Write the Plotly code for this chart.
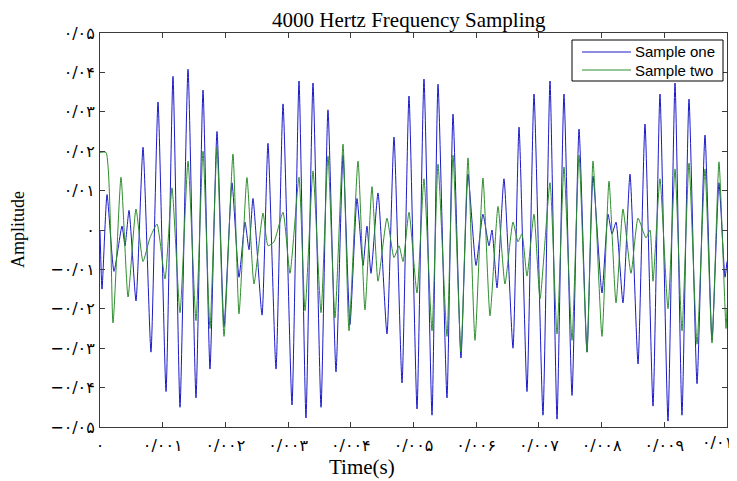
import plotly.graph_objects as go

# Sample one (blue): time in ms, amplitude
blue_ms = [0.000, 0.032, 0.112, 0.223, 0.351, 0.399, 0.463, 0.574, 0.686, 0.813,
           0.925, 1.053, 1.164, 1.276, 1.404, 1.531, 1.643, 1.754, 1.866, 1.978,
           2.105, 2.217, 2.313, 2.376, 2.440, 2.584, 2.679, 2.807, 2.919, 3.062,
           3.174, 3.285, 3.397, 3.525, 3.636, 3.764, 3.876, 3.987, 4.099, 4.195,
           4.258, 4.322, 4.434, 4.577, 4.689, 4.817, 4.928, 5.056, 5.167, 5.295,
           5.391, 5.534, 5.630, 5.757, 5.869, 5.997, 6.108, 6.204, 6.252, 6.332,
           6.443, 6.587, 6.683, 6.810, 6.922, 7.065, 7.177, 7.289, 7.400, 7.528,
           7.640, 7.767, 7.863, 8.006, 8.102, 8.166, 8.230, 8.341, 8.453, 8.581,
           8.692, 8.820, 8.931, 9.059, 9.171, 9.282, 9.394, 9.522, 9.649, 9.761,
           9.872, 9.968, 10.000]
blue_amp = [0.000, -0.015, 0.009, -0.0105, 0.001, -0.004, 0.005, -0.018, 0.021, -0.031,
            0.0325, -0.041, 0.039, -0.045, 0.0408, -0.0426, 0.0355, -0.0353, 0.025, -0.0245,
            0.012, -0.012, 0.002, -0.005, 0.008, -0.0216, 0.022, -0.0353, 0.032, -0.0444,
            0.0378, -0.0477, 0.0373, -0.045, 0.0305, -0.036, 0.019, -0.024, 0.008, -0.009,
            0.001, -0.011, 0.0094, -0.0264, 0.0236, -0.0388, 0.034, -0.0454, 0.0383, -0.047,
            0.037, -0.0426, 0.0294, -0.0325, 0.0142, -0.009, 0.004, -0.004, 0.000, -0.0147,
            0.013, -0.030, 0.0261, -0.041, 0.0345, -0.047, 0.0378, -0.048, 0.0345, -0.042,
            0.0256, -0.031, 0.0137, -0.016, 0.004, -0.001, 0.002, -0.0185, 0.0142, -0.034,
            0.0269, -0.0447, 0.0345, -0.0485, 0.0373, -0.047, 0.0332, -0.039, 0.0241, -0.028,
            0.012, -0.012, -0.008]

# Sample two (green): time in ms, amplitude
green_ms = [0.000, 0.096, 0.207, 0.335, 0.447, 0.574, 0.686, 0.797, 0.909, 1.037,
            1.148, 1.276, 1.404, 1.531, 1.643, 1.754, 1.866, 1.978, 2.121, 2.217,
            2.344, 2.456, 2.600, 2.680, 2.775, 2.919, 3.030, 3.174, 3.270, 3.397,
            3.525, 3.636, 3.748, 3.876, 3.971, 4.115, 4.226, 4.338, 4.434, 4.577,
            4.689, 4.769, 4.833, 4.928, 5.056, 5.167, 5.295, 5.391, 5.534, 5.630,
            5.757, 5.869, 5.981, 6.108, 6.220, 6.348, 6.459, 6.587, 6.667, 6.730,
            6.810, 6.922, 7.018, 7.177, 7.289, 7.400, 7.528, 7.640, 7.767, 7.863,
            8.006, 8.118, 8.230, 8.341, 8.469, 8.581, 8.708, 8.772, 8.820, 8.931,
            9.059, 9.171, 9.282, 9.394, 9.522, 9.649, 9.761, 9.872, 9.984, 10.000]
green_amp = [0.0197, 0.0197, -0.0236, 0.0134, -0.017, 0.0053, -0.008, -0.002, 0.0015, -0.0124,
             0.0107, -0.021, 0.0175, -0.023, 0.020, -0.025, 0.021, -0.027, 0.0193, -0.0213,
             0.0133, -0.0137, 0.0043, -0.004, -0.003, 0.0045, -0.011, 0.0134, -0.0205, 0.015,
             -0.021, 0.0188, -0.0223, 0.0218, -0.0256, 0.0175, -0.0203, 0.011, -0.013, 0.003,
             -0.007, -0.004, -0.008, 0.0045, -0.016, 0.013, -0.0256, 0.0167, -0.027, 0.019,
             -0.031, 0.0183, -0.028, 0.0132, -0.0218, 0.006, -0.0137, 0.002, -0.003, -0.001,
             -0.0117, 0.004, -0.0175, 0.012, -0.0264, 0.016, -0.028, 0.019, -0.031, 0.0175,
             -0.027, 0.0124, -0.0185, 0.0053, -0.011, 0.003, -0.002, 0.000, -0.013, 0.013,
             -0.020, 0.0155, -0.0256, 0.017, -0.029, 0.0155, -0.0287, 0.0173, -0.025, -0.020]

series_names = ["Sample one", "Sample two"]
series_colors = ["#1a1ac8", "#2e8e2e"]

x_tick_vals = [0, 0.001, 0.002, 0.003, 0.004, 0.005, 0.006, 0.007, 0.008, 0.009, 0.01]
x_tick_text = ["۰", "۰/۰۰۱", "۰/۰۰۲", "۰/۰۰۳", "۰/۰۰۴", "۰/۰۰۵",
               "۰/۰۰۶", "۰/۰۰۷", "۰/۰۰۸", "۰/۰۰۹", "۰/۰۱"]
y_tick_vals = [0.05, 0.04, 0.03, 0.02, 0.01, 0, -0.01, -0.02, -0.03, -0.04, -0.05]
y_tick_text = ["۰/۰۵", "۰/۰۴", "۰/۰۳", "۰/۰۲", "۰/۰۱", "۰",
               "−۰/۰۱", "−۰/۰۲", "−۰/۰۳", "−۰/۰۴", "−۰/۰۵"]

fig = go.Figure()
for name, color, ms, amp in [(series_names[0], series_colors[0], blue_ms, blue_amp),
                             (series_names[1], series_colors[1], green_ms, green_amp)]:
    fig.add_trace(go.Scatter(x=[t / 1000 for t in ms], y=amp, mode="lines", name=name,
                             showlegend=False,
                             line=dict(color=color, width=1, shape="spline", smoothing=0.5)))


# page-pixel helpers (plot area spans x 100..727, y 33..427 on the page)
def px(x):
    return (x - 100) / 627


def py(y):
    return (427 - y) / 394


# legend box drawn like MATLAB's
shapes = [dict(type="rect", xref="paper", yref="paper", x0=px(572), x1=px(723),
               y0=py(81), y1=py(40), line=dict(color="black", width=1),
               fillcolor="white", layer="above")]
annotations = []
for i, (name, color) in enumerate(zip(series_names, series_colors)):
    yy = 52 + 18 * i
    shapes.append(dict(type="line", xref="paper", yref="paper", x0=px(582), x1=px(631),
                       y0=py(yy), y1=py(yy), line=dict(color=color, width=1), layer="above"))
    annotations.append(dict(text=name, xref="paper", yref="paper", x=px(633), y=py(yy),
                            xanchor="left", yanchor="middle", showarrow=False,
                            font=dict(family="Liberation Sans", size=15, color="black")))

tick_font = dict(family="DejaVu Sans", size=16, color="black")

# the last x tick label sits at the right page edge; right-align it so it stays visible
annotations.append(dict(text=x_tick_text[-1], xref="paper", yref="paper",
                        x=px(735), y=py(443), xanchor="right", yanchor="middle",
                        showarrow=False, font=tick_font))
x_tick_text_axis = x_tick_text[:-1] + [""]

annotations += [
    dict(text="4000 Hertz Frequency Sampling", xref="paper", yref="paper",
         x=px(409), y=py(20), xanchor="center", yanchor="middle",
         showarrow=False, font=dict(family="Liberation Serif", size=21, color="black")),
    dict(text="Time(s)", xref="paper", yref="paper",
         x=px(362), y=py(467), xanchor="center", yanchor="middle",
         showarrow=False, font=dict(family="Liberation Serif", size=21, color="black")),
    dict(text="Amplitude", xref="paper", yref="paper", textangle=-90,
         x=px(18), y=0.5, xanchor="center", yanchor="middle",
         showarrow=False, font=dict(family="Liberation Serif", size=18, color="black")),
]

axis_common = dict(showline=True, mirror="ticks", linecolor="#3a3a3a", linewidth=1,
                   ticks="inside", ticklen=5, tickcolor="#3a3a3a", showgrid=False,
                   zeroline=False, automargin=False)
# the page body has an 8px margin, so the figure is shifted by 8px
fig.update_layout(
    width=729, height=473,
    margin=dict(l=92, r=10, t=25, b=54),
    paper_bgcolor="white", plot_bgcolor="white",
    xaxis=dict(range=[0, 0.01], tickvals=x_tick_vals, ticktext=x_tick_text_axis,
               tickfont=tick_font, ticklabelstandoff=4, **axis_common),
    yaxis=dict(range=[-0.05, 0.05], tickvals=y_tick_vals, ticktext=y_tick_text,
               tickfont=tick_font, ticklabelstandoff=1, **axis_common),
    showlegend=False,
    shapes=shapes,
    annotations=annotations,
)

fig.write_html("out.html")
